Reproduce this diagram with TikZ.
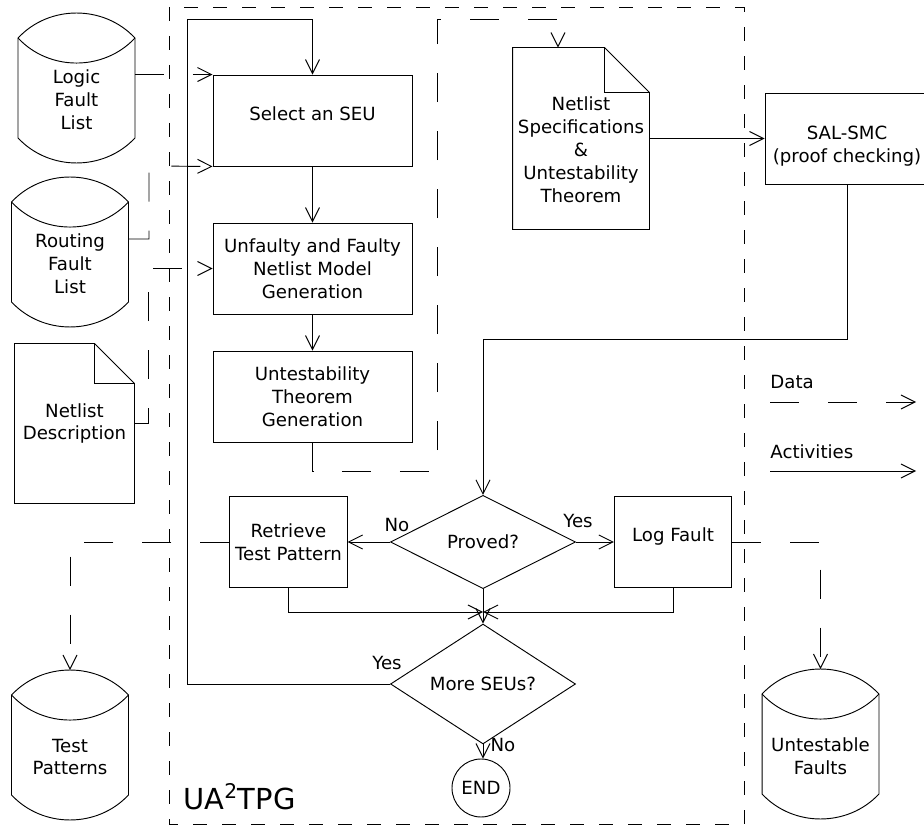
\documentclass[tikz,border=0pt]{standalone}
\usepackage{fontspec}
\setmainfont{DejaVu Sans}
\usetikzlibrary{shapes.geometric, arrows.meta, positioning, calc}

\begin{document}
\begin{tikzpicture}[
    x=0.03cm, y=0.03cm,
    font=\fontsize{15.5}{19.6}\selectfont,
    line width=0.8pt,
    box/.style={rectangle, draw, minimum width=5.97cm, minimum height=2.73cm,
                inner sep=2pt, align=center},
    smallbox/.style={box, minimum width=3.52cm},
    decision/.style={diamond, draw, minimum width=5.55cm, minimum height=2.8cm,
                     inner sep=0pt, align=center},
    store/.style={rectangle, minimum width=3.48cm, minimum height=2.25cm,
                  inner sep=0pt, align=center},
    doc/.style={rectangle, inner sep=0pt, align=center},
    act/.style={-{Straight Barb[length=0.42cm, width=0.42cm]}},
    data/.style={act, dash pattern=on 0.87cm off 0.87cm},
    frame/.style={dash pattern=on 0.42cm off 0.45cm},
    lbl/.style={inner sep=1pt},
]
\useasboundingbox (0,0) rectangle (924,-825);

% ── UA2TPG frame ──
\draw[frame] (169,-7) rectangle (744,-824);
\node[anchor=base west, inner sep=0pt, font=\fontsize{24.7}{30}\selectfont] (title) at (183,-809) {UA\textsuperscript{2}TPG};

% ── Inputs ──
\node[store] (lfl) at (76.5,-100) {Logic\\Fault\\List};
\node[store] (rfl) at (70,-264) {Routing\\Fault\\List};
\node[doc, minimum width=3.57cm, minimum height=4.77cm] (nd) at (74.5,-423.5) {Netlist\\Description};

% ── Outputs ──
\node[store] (tp) at (70,-757) {Test\\Patterns};
\node[store] (uf) at (820.5,-756) {Untestable\\Faults};

% ── Flow ──
\node[box, text depth=0.42cm] (sel) at (312.5,-120.5) {Select an SEU};
\node[box] (unf) at (312.5,-268.5) {Unfaulty and Faulty\\Netlist Model\\Generation};
\node[box] (utg) at (312.5,-396.5) {Untestability\\Theorem\\Generation};
\node[doc, minimum width=4.08cm, minimum height=5.43cm] (nsut) at (581,-138.5) {\rule{0pt}{1.1cm}Netlist\\Specifications\\\&\\Untestability\\Theorem};
\node[box, minimum width=4.92cm] (sal) at (847,-138.5) {\rule{0pt}{0.84cm}SAL-SMC\\(proof checking)};
\node[decision] (proved) at (483,-542) {Proved?};
\node[smallbox] (rtp) at (288.5,-542) {Retrieve\\Test Pattern};
\node[smallbox, text depth=0.42cm] (log) at (673,-542) {Log Fault};
\node[decision] (more) at (483,-684) {More SEUs?};
\node[circle, draw, minimum size=1.74cm, inner sep=0pt] (finish) at (481,-788) {END};
\coordinate (merge) at (483,-612);
\coordinate (specin) at ([xshift=-0.69cm]nsut.north);

% barrels and documents
\foreach \n in {lfl,rfl,tp,uf}{
  \draw ([yshift=0.72cm]\n.north west) to[bend left=47] ([yshift=0.72cm]\n.north east)
        -- (\n.south east) to[bend left=47] (\n.south west) -- cycle;
  \draw ([yshift=0.72cm]\n.north west) to[bend right=47] ([yshift=0.72cm]\n.north east);
}
\foreach \n/\f in {nd/1.2cm, nsut/1.35cm}{
  \draw (\n.north west) -- ([xshift=-\f]\n.north east) -- ([yshift=-\f]\n.north east)
        -- (\n.south east) -- (\n.south west) -- cycle;
  \draw ([xshift=-\f]\n.north east) |- ([yshift=-\f]\n.north east);
}

% ── Labels ──
\node[lbl] (no1) at (397,-525) {No};
\node[lbl] (yes1) at (578,-521) {Yes};
\node[lbl] (yes2) at (387,-663) {Yes};
\node[lbl] (no2) at (503,-745) {No};

% ── Activities ──
\draw[act] (sel.south) -- (unf.north);
\draw[act] (unf.south) -- (utg.north);
\draw[act] (nsut.east) -- (sal.west);
\draw[act] (sal.south) -- (sal.south |- 0,-339) -| (proved.north);
\draw[act] (proved.east) -- (log.west);
\draw[act] (proved.west) -- (rtp.east);
\draw[act] (rtp.south) |- (merge);
\draw[act] (log.south) |- (merge);
\draw[act] (proved.south) -- (more.north);
\draw[act] (more.south) -- (more.south |- finish.north);
\draw[act] (more.west) -| (187,-19) -| (sel.north);

% ── Data ──
\draw[data] (lfl.east |- sel.north west) -- (sel.north west);
\draw[data] (rfl.east |- 0,-239) -| (149,-166) -- (sel.south west);
\draw[data] (nd.east) -| (148,-268.5) -- (unf.west);
\draw[data] (utg.south) |- (437,-471) |- (specin |- 0,-19) -- (specin);
\draw[data] (rtp.west) -| ([yshift=1.47cm]tp.north);
\draw[data] (log.east) -| ([yshift=1.47cm]uf.north);

% ── Legend ──
\node[anchor=west, inner sep=0pt] (datalbl) at (770,-382) {Data};
\node[anchor=west, inner sep=0pt] (actlbl) at (770,-452) {Activities};
\coordinate (d0) at (770,-402);
\coordinate (d1) at (916,-402);
\coordinate (a0) at (770,-471);
\coordinate (a1) at (916,-471);
\draw[data] (d0) -- (d1);
\draw[act] (a0) -- (a1);

\end{tikzpicture}
\end{document}
